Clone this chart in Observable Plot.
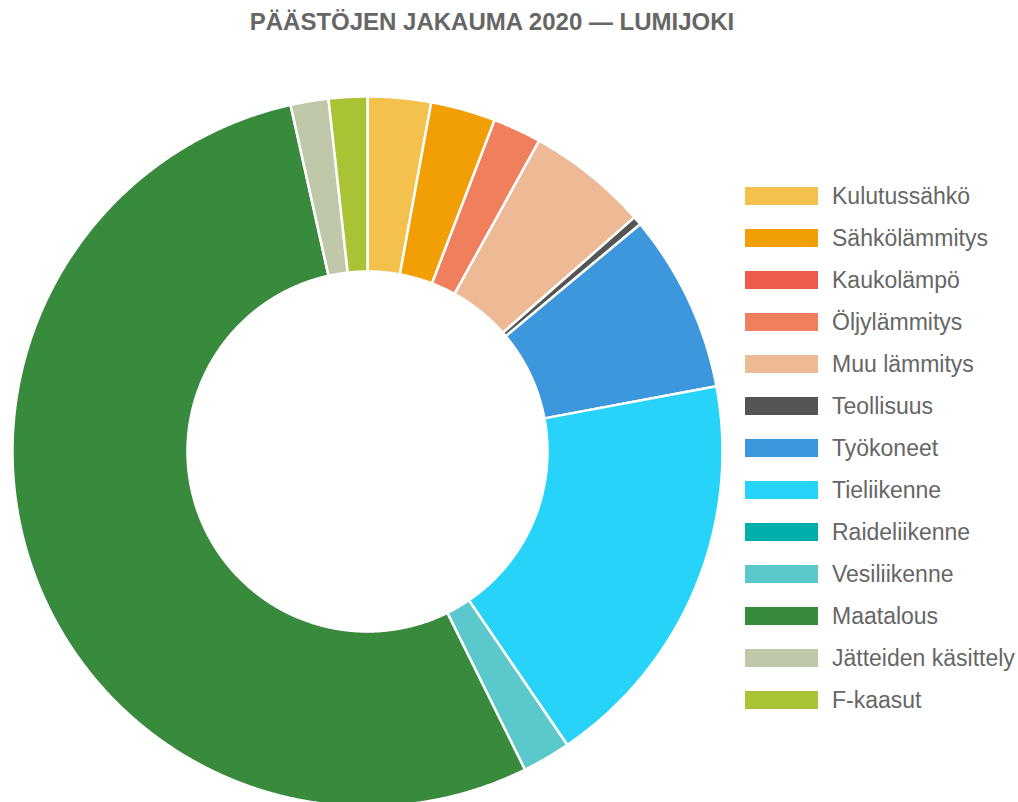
<!DOCTYPE html>
<html><head><meta charset="utf-8">
<script src="https://cdn.jsdelivr.net/npm/d3@7"></script>
<script src="https://cdn.jsdelivr.net/npm/@observablehq/plot@0.6"></script>
<style>
body{margin:0;background:#fff;font-family:"Liberation Sans",Arial,sans-serif;}
#wrap{position:relative;width:1018px;height:802px;overflow:hidden;background:#fff;}
#title{height:44px;line-height:44px;width:984px;text-align:center;font-weight:bold;font-size:24px;color:#666;}
#legend{position:absolute;left:745px;top:175px;}
.row{display:flex;align-items:center;height:42px;}
.sw{width:73px;height:18px;margin-right:14px;flex:none;}
.lb{font-size:23px;color:#666;white-space:nowrap;}
</style></head>
<body>
<div id="wrap">
  <div id="title">PÄÄSTÖJEN JAKAUMA 2020 — LUMIJOKI</div>
  <div id="chart"></div>
  <div id="legend"></div>
</div>
<script>
const categories = ["Kulutussähkö","Sähkölämmitys","Kaukolämpö","Öljylämmitys","Muu lämmitys","Teollisuus","Työkoneet","Tieliikenne","Raideliikenne","Vesiliikenne","Maatalous","Jätteiden käsittely","F-kaasut"];
const values = [2.87, 2.95, 0, 2.2, 5.5, 0.4, 8.1, 18.4, 0, 2.2, 53.75, 1.72, 1.75];
const colors = ["#F4C04E","#F29F05","#EE5A4C","#EF7F5D","#EEBA96","#555555","#3D97DD","#27D3F8","#00AFAA","#5BC8CB","#388A3C","#BFC9AA","#A8C334"];

const W = 740, H = 758, cx = 367, cy = 407, R = 355, r0 = 180;
const slices = d3.pie().sort(null).value(d => d.value)(categories.map((c, i) => ({key: c, value: values[i]})));
const pts = [];
for (const s of slices) {
  if (!(s.value > 0)) continue;
  const a0 = s.startAngle, a1 = s.endAngle;
  const n = Math.max(2, Math.ceil((a1 - a0) / 0.004));
  const ring = [];
  for (let i = 0; i <= n; i++) { const a = a0 + (a1 - a0) * i / n; ring.push({key: s.data.key, x: R * Math.sin(a), y: R * Math.cos(a)}); }
  for (let i = n; i >= 0; i--) { const a = a0 + (a1 - a0) * i / n; ring.push({key: s.data.key, x: r0 * Math.sin(a), y: r0 * Math.cos(a)}); }
  ring.push({...ring[0]});
  pts.push(...ring);
}

const chart = Plot.plot({
  width: W, height: H,
  margin: 0,
  x: {domain: [-cx, W - cx], axis: null},
  y: {domain: [-(H - cy), cy], axis: null},
  color: {domain: categories, range: colors},
  marks: [
    Plot.line(pts, {x: "x", y: "y", z: "key", fill: "key", stroke: "white", strokeWidth: 2.5, strokeLinejoin: "round", curve: "linear"})
  ]
});
document.getElementById("chart").appendChild(chart);

const leg = document.getElementById("legend");
categories.forEach((c, i) => {
  const row = document.createElement("div"); row.className = "row";
  const sw = document.createElement("div"); sw.className = "sw"; sw.style.background = colors[i];
  const lb = document.createElement("div"); lb.className = "lb"; lb.textContent = c;
  row.appendChild(sw); row.appendChild(lb); leg.appendChild(row);
});
</script>
</body></html>
